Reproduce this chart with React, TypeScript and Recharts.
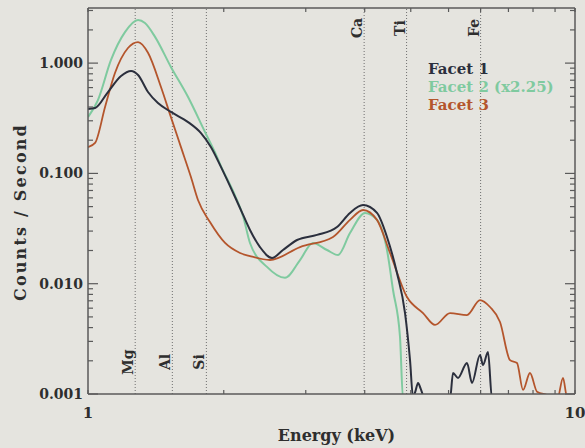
import React from "react";
import { LineChart, Line, XAxis, YAxis, ReferenceLine, Legend } from "recharts";

// ---- data ----
const facet1Energy = [1.0, 1.034, 1.099, 1.169, 1.226, 1.267, 1.328, 1.392, 1.48, 1.605, 1.706, 1.789, 1.876, 2.004, 2.082, 2.151, 2.255, 2.387, 2.514, 2.687, 2.953, 3.246, 3.451, 3.671, 3.921, 4.111, 4.31, 4.477, 4.584, 4.649, 4.7, 4.761, 4.82, 4.92, 5.3, 5.538, 5.617, 5.752, 6.001, 6.145, 6.382, 6.473, 6.628, 6.755, 8.0, 10.0];
const facet1Rate = [0.384, 0.392, 0.547, 0.764, 0.848, 0.78, 0.547, 0.434, 0.361, 0.292, 0.232, 0.173, 0.114, 0.0611, 0.042, 0.0307, 0.0215, 0.0171, 0.0202, 0.0249, 0.0277, 0.0327, 0.0438, 0.0516, 0.0438, 0.0265, 0.0125, 0.00542, 0.00203, 0.00094, 0.00105, 0.00126, 0.00112, 0.0009, 0.0009, 0.0009, 0.00155, 0.0014, 0.00191, 0.00126, 0.00226, 0.00183, 0.0024, 0.0009, 0.0009, 0.0009];

const facet2Energy = [1.0, 1.048, 1.115, 1.191, 1.267, 1.309, 1.373, 1.48, 1.605, 1.739, 1.823, 1.876, 2.004, 2.082, 2.151, 2.331, 2.538, 2.725, 2.897, 3.096, 3.262, 3.451, 3.706, 3.921, 4.111, 4.23, 4.372, 4.435, 10.0];
const facet2Rate = [0.324, 0.462, 1.07, 1.91, 2.46, 2.31, 1.73, 0.923, 0.492, 0.237, 0.155, 0.116, 0.063, 0.041, 0.0234, 0.0142, 0.0113, 0.0164, 0.0234, 0.0202, 0.0182, 0.0288, 0.0438, 0.0379, 0.0202, 0.00877, 0.00329, 0.0009, 0.0009];

const facet3Energy = [1.0, 1.034, 1.084, 1.136, 1.208, 1.267, 1.328, 1.412, 1.48, 1.552, 1.627, 1.682, 1.78, 1.912, 2.052, 2.151, 2.364, 2.725, 3.185, 3.451, 3.671, 3.921, 4.17, 4.519, 4.875, 5.16, 5.538, 6.001, 6.382, 6.691, 7.015, 7.355, 7.602, 7.821, 8.083, 8.356, 8.761, 9.2, 9.449, 9.629, 10.0];
const facet3Rate = [0.173, 0.189, 0.4, 0.813, 1.37, 1.55, 1.24, 0.607, 0.324, 0.173, 0.0927, 0.0574, 0.0362, 0.0234, 0.019, 0.0178, 0.0164, 0.0215, 0.0265, 0.0379, 0.0466, 0.0379, 0.019, 0.00757, 0.00542, 0.00423, 0.00542, 0.0052, 0.00711, 0.00615, 0.0045, 0.00203, 0.00191, 0.00109, 0.00155, 0.00105, 0.00098, 0.0009, 0.0014, 0.00094, 0.001];

const elementNames = ["Mg", "Al", "Si", "Ca", "Ti", "Fe"];
const elementEnergies = [1.25, 1.49, 1.75, 3.69, 4.51, 6.4];
const elementLabelAtTop = [false, false, false, true, true, true];

const seriesNames = ["Facet 1", "Facet 2 (x2.25)", "Facet 3"];
const seriesColors = ["#2b2f3d", "#7fca9f", "#b4552c"];

const yDecades = [0.001, 0.01, 0.1, 1];
const yMax = 3.16;
const xTicks = [1, 1.9, 2.8, 3.7, 4.6, 5.5, 6.4, 7.3, 8.2, 9.1, 10];
const xLabelled = [1, 10];

// ---- layout ----
const W = 585;
const H = 448;
const MARGIN = { top: 0, right: 0, bottom: 24, left: 28 };
const LEFT_AXIS_W = 60;
const RIGHT_AXIS_W = 10;
const BOTTOM_AXIS_H = 30;
const TOP_AXIS_H = 8;
const PLOT_LEFT = MARGIN.left + LEFT_AXIS_W;
const PLOT_RIGHT = W - MARGIN.right - RIGHT_AXIS_W;
const PLOT_TOP = MARGIN.top + TOP_AXIS_H;
const PLOT_BOTTOM = H - MARGIN.bottom - BOTTOM_AXIS_H;

const FONT = "'DejaVu Serif', serif";
const TEXT = "#2e2e2e";
const FRAME = "#5a5a5a";
const BG = "#e5e4df";

const mk = (es: number[], vs: number[]) => es.map((e, i) => ({ e, c: vs[i] }));
const facet1 = mk(facet1Energy, facet1Rate);
const facet2 = mk(facet2Energy, facet2Rate);
const facet3 = mk(facet3Energy, facet3Rate);

const yTicks: number[] = [];
yDecades.forEach((d) => {
  for (let k = 1; k <= 9; k++) {
    const v = +(k * d).toPrecision(3);
    if (v <= yMax) yTicks.push(v);
  }
});
const isMajor = (v: number) => yDecades.some((d) => Math.abs(v - d) < d * 1e-6);

const LeftTick = (p: any) => {
  const v = p.payload.value;
  const major = isMajor(v);
  return (
    <g>
      <line x1={PLOT_LEFT} x2={PLOT_LEFT + (major ? 10 : 5)} y1={p.y} y2={p.y} stroke={FRAME} strokeWidth={1.2} />
      {major && (
        <text x={PLOT_LEFT - 5} y={p.y} textAnchor="end" dominantBaseline="central" fontFamily={FONT} fontSize={14} fontWeight="bold" fill={TEXT}>
          {v.toFixed(3)}
        </text>
      )}
    </g>
  );
};
const RightTick = (p: any) => {
  const major = isMajor(p.payload.value);
  return <line x1={PLOT_RIGHT - (major ? 10 : 5)} x2={PLOT_RIGHT} y1={p.y} y2={p.y} stroke={FRAME} strokeWidth={1.2} />;
};
const BottomTick = (p: any) => {
  const v = p.payload.value;
  return (
    <g>
      <line x1={p.x} x2={p.x} y1={PLOT_BOTTOM} y2={PLOT_BOTTOM - 4} stroke={FRAME} strokeWidth={1.2} />
      {xLabelled.includes(v) && (
        <text x={p.x} y={PLOT_BOTTOM + 19} textAnchor="middle" dominantBaseline="central" fontFamily={FONT} fontSize={15} fontWeight="bold" fill={TEXT}>
          {String(v)}
        </text>
      )}
    </g>
  );
};
const TopTick = (p: any) => (
  <line x1={p.x} x2={p.x} y1={PLOT_TOP} y2={PLOT_TOP + 4} stroke={FRAME} strokeWidth={1.2} />
);

const ElemLabel = (p: any) => {
  const vb = p.viewBox || {};
  const x = vb.x - 7;
  const y = p.top ? vb.y + 20 : vb.y + vb.height - 32;
  return (
    <text x={x} y={y} transform={`rotate(-90, ${x}, ${y})`} textAnchor="middle" dominantBaseline="central" fontFamily={FONT} fontSize={14} fontWeight="bold" fill={TEXT}>
      {p.name}
    </text>
  );
};

const YTitle = (p: any) => {
  const vb = p.viewBox || {};
  const x = 20;
  const y = vb.y + vb.height / 2 + 11;
  return (
    <text x={x} y={y} transform={`rotate(-90, ${x}, ${y})`} textAnchor="middle" dominantBaseline="central" fontFamily={FONT} fontSize={16} fontWeight="bold" letterSpacing={2.2} fill={TEXT}>
      Counts / Second
    </text>
  );
};
const XTitle = (p: any) => {
  const vb = p.viewBox || {};
  return (
    <text x={vb.x + vb.width / 2 + 5} y={435} textAnchor="middle" dominantBaseline="central" fontFamily={FONT} fontSize={16} fontWeight="bold" fill={TEXT}>
      Energy (keV)
    </text>
  );
};

const LegendBox = () => (
  <div style={{ fontFamily: FONT, fontSize: 15, fontWeight: "bold", lineHeight: "18px", whiteSpace: "pre" }}>
    {seriesNames.map((n, i) => (
      <div key={n} style={{ color: seriesColors[i] }}>{n}</div>
    ))}
  </div>
);

export default function App() {
  return (
    <div style={{ position: "absolute", left: 0, top: 0, width: W, height: H, background: BG }}>
      <LineChart width={W} height={H} margin={MARGIN}>
        <XAxis xAxisId={0} dataKey="e" type="number" scale="log" domain={[1, 10]} allowDataOverflow ticks={xTicks} interval={0} tick={<BottomTick />} tickLine={false} axisLine={{ stroke: FRAME, strokeWidth: 1.5 }} height={BOTTOM_AXIS_H} label={<XTitle />} />
        <XAxis xAxisId="top" orientation="top" dataKey="e" type="number" scale="log" domain={[1, 10]} allowDataOverflow ticks={xTicks} interval={0} tick={<TopTick />} tickLine={false} axisLine={{ stroke: FRAME, strokeWidth: 1.5 }} height={TOP_AXIS_H} />
        <YAxis yAxisId={0} type="number" scale="log" domain={[0.001, yMax]} allowDataOverflow ticks={yTicks} interval={0} tick={<LeftTick />} tickLine={false} axisLine={{ stroke: FRAME, strokeWidth: 1.5 }} width={LEFT_AXIS_W} label={<YTitle />} />
        <YAxis yAxisId="right" orientation="right" type="number" scale="log" domain={[0.001, yMax]} allowDataOverflow ticks={yTicks} interval={0} tick={<RightTick />} tickLine={false} axisLine={{ stroke: FRAME, strokeWidth: 1.5 }} width={RIGHT_AXIS_W} />
        {elementEnergies.map((e, i) => (
          <ReferenceLine key={elementNames[i]} x={e} xAxisId={0} yAxisId={0} stroke="#6f6f6f" strokeWidth={1} strokeDasharray="1 2" label={<ElemLabel name={elementNames[i]} top={elementLabelAtTop[i]} />} />
        ))}
        <Legend layout="vertical" align="center" verticalAlign="middle" content={<LegendBox />} wrapperStyle={{ position: "absolute", left: 428, top: 60, width: 150 }} />
        <Line xAxisId={0} yAxisId={0} data={facet2} dataKey="c" name={seriesNames[1]} type="monotone" stroke={seriesColors[1]} strokeWidth={2} dot={false} isAnimationActive={false} />
        <Line xAxisId={0} yAxisId={0} data={facet3} dataKey="c" name={seriesNames[2]} type="monotone" stroke={seriesColors[2]} strokeWidth={1.8} dot={false} isAnimationActive={false} />
        <Line xAxisId={0} yAxisId={0} data={facet1} dataKey="c" name={seriesNames[0]} type="monotone" stroke={seriesColors[0]} strokeWidth={2} dot={false} isAnimationActive={false} />
      </LineChart>
    </div>
  );
}
